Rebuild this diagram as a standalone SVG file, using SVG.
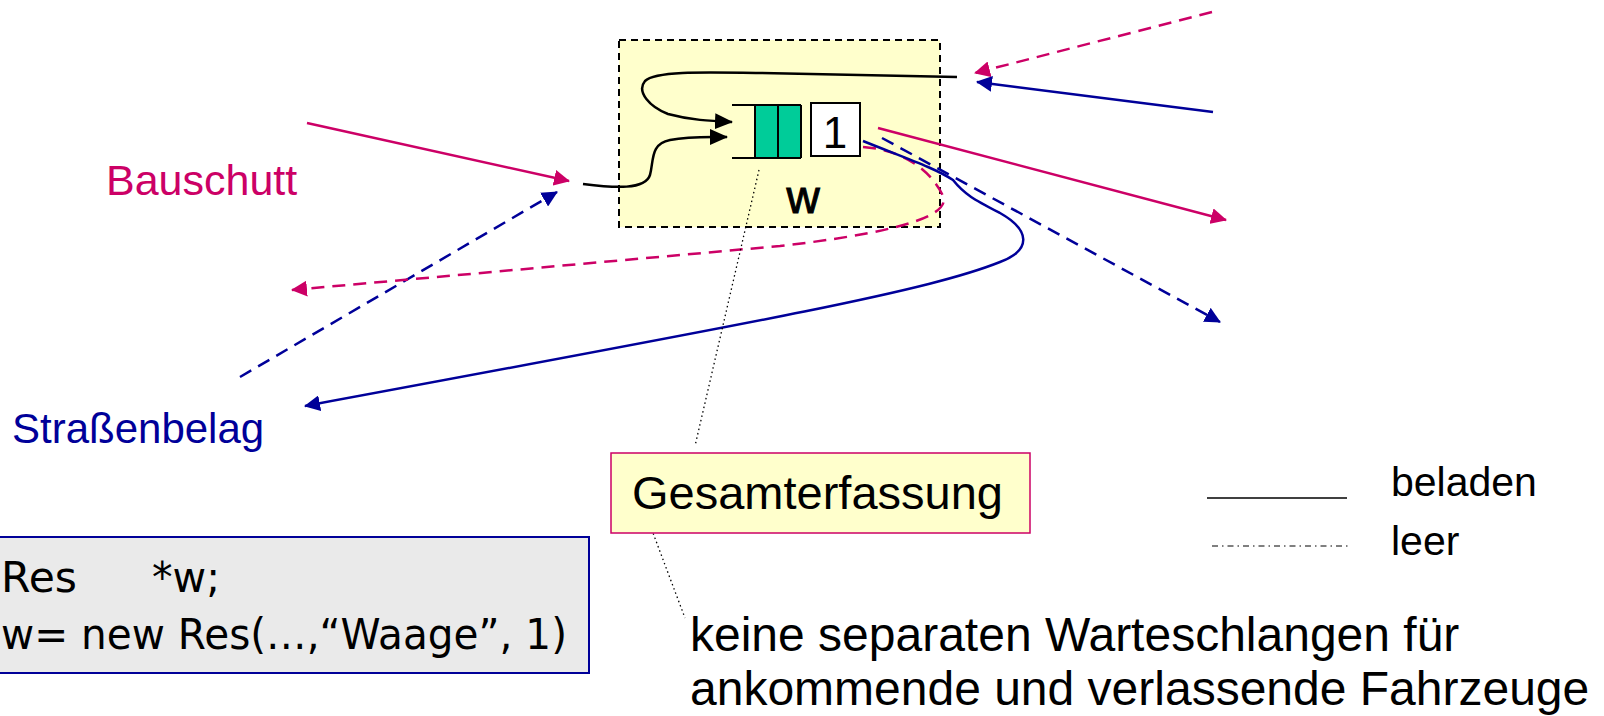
<svg xmlns="http://www.w3.org/2000/svg" width="1604" height="716" viewBox="0 0 1604 716">
<style>
  .t { font-family: "Liberation Sans", Arial, sans-serif; }
  .code { font-family: "DejaVu Sans", sans-serif; font-size: 43px; fill: #000; }
  .mag { stroke: #CC0066; stroke-width: 2.5; fill: none; }
  .blu { stroke: #000099; stroke-width: 2.5; fill: none; }
  .blk { stroke: #000; stroke-width: 2.5; fill: none; }
  .dash { stroke-dasharray: 13 8; }
  .dot { stroke: #000; stroke-width: 1.3; fill: none; stroke-dasharray: 1.5 3; }
</style>
<defs>
  <marker id="am" viewBox="0 0 16 16" refX="15" refY="8" markerWidth="16" markerHeight="16" markerUnits="userSpaceOnUse" orient="auto"><path d="M0,0 L16,8 L0,16 z" fill="#CC0066"/></marker>
  <marker id="ab" viewBox="0 0 16 16" refX="15" refY="8" markerWidth="16" markerHeight="16" markerUnits="userSpaceOnUse" orient="auto"><path d="M0,0 L16,8 L0,16 z" fill="#000099"/></marker>
  <marker id="ak" viewBox="0 0 18 16" refX="17" refY="8" markerWidth="18" markerHeight="16" markerUnits="userSpaceOnUse" orient="auto"><path d="M0,0 L18,8 L0,16 z" fill="#000"/></marker>
</defs>

<g id="waage">
  <rect x="619" y="40" width="321" height="187" fill="#FFFFCC" stroke="#000" stroke-width="2" stroke-dasharray="7 5"/>
  <rect x="755" y="105" width="46" height="53" fill="#00CC99"/>
  <line x1="732" y1="105" x2="801" y2="105" stroke="#000" stroke-width="2"/>
  <line x1="732" y1="158" x2="801" y2="158" stroke="#000" stroke-width="2"/>
  <line x1="755" y1="105" x2="755" y2="158" stroke="#000" stroke-width="2"/>
  <line x1="778" y1="105" x2="778" y2="158" stroke="#000" stroke-width="2"/>
  <line x1="801" y1="105" x2="801" y2="158" stroke="#000" stroke-width="2"/>
  <rect x="811" y="103" width="49" height="53" fill="#fff" stroke="#000" stroke-width="2"/>
  <text class="t" x="835" y="148" font-size="44" text-anchor="middle">1</text>
  <text class="t" x="803" y="213" font-size="46" text-anchor="middle" stroke="#000" stroke-width="1">w</text>
</g>

<g id="connectors">
  <line class="mag" x1="307" y1="123" x2="569" y2="181" marker-end="url(#am)"/>
  <line class="blu dash" x1="240" y1="377" x2="557" y2="192" marker-end="url(#ab)"/>
  <path class="blk" d="M583,184 C615,188 645,190 650,175 C654,160 650,144 670,140 C690,136 710,137 727,137" marker-end="url(#ak)"/>
  <path class="blk" d="M957,77 L760,73 C700,72 655,71 645,81 C636,92 650,107 668,114 C690,120 710,121 732,122" marker-end="url(#ak)"/>
  <line class="mag dash" x1="1212" y1="12" x2="975" y2="73" marker-end="url(#am)"/>
  <line class="blu" x1="1213" y1="112" x2="977" y2="82" marker-end="url(#ab)"/>
  <line class="mag" x1="878" y1="128" x2="1226" y2="220" marker-end="url(#am)"/>
  <line class="blu dash" x1="882" y1="138" x2="1220" y2="322" marker-end="url(#ab)"/>
  <path class="mag dash" d="M863,147 C905,150 932,172 943,196 C952,218 885,234 780,246 L292,290" marker-end="url(#am)"/>
  <path class="blu" d="M863,141 C905,158 935,168 953,180 C965,195 975,200 1000,213 C1030,230 1032,250 1000,262 C930,290 780,318 305,406" marker-end="url(#ab)"/>
  <line class="dot" x1="759" y1="170" x2="695" y2="446"/>
  <line class="dot" x1="650" y1="525" x2="685" y2="618"/>
</g>

<g id="labels">
  <text class="t" x="106" y="195" font-size="43" fill="#CC0066">Bauschutt</text>
  <text class="t" x="12" y="443" font-size="42" fill="#000099">Straßenbelag</text>
</g>

<g id="gesamterfassung">
  <rect x="611" y="453" width="419" height="80" fill="#FFFFCC" stroke="#CC0066" stroke-width="1.5"/>
  <text class="t" x="632" y="509" font-size="47">Gesamterfassung</text>
</g>

<g id="code">
  <rect x="-2" y="537" width="591" height="136" fill="#EAEAEA" stroke="#000099" stroke-width="2"/>
  <text class="code" y="592"><tspan x="1" textLength="76" lengthAdjust="spacingAndGlyphs">Res</tspan><tspan x="152" textLength="68" lengthAdjust="spacingAndGlyphs">*w;</tspan></text>
  <text class="code" x="1" y="649" textLength="566" lengthAdjust="spacingAndGlyphs">w= new Res(…,“Waage”, 1)</text>
</g>

<g id="legend">
  <line x1="1207" y1="498" x2="1347" y2="498" stroke="#000" stroke-width="1.5"/>
  <text class="t" x="1391" y="496" font-size="41">beladen</text>
  <line x1="1212" y1="546" x2="1351" y2="546" stroke="#000" stroke-width="1" stroke-dasharray="6 4 1.5 4"/>
  <text class="t" x="1391" y="555" font-size="41">leer</text>
</g>

<g id="note">
  <text class="t" x="690" y="651" font-size="48">keine separaten Warteschlangen für</text>
  <text class="t" x="690" y="705" font-size="48">ankommende und verlassende Fahrzeuge</text>
</g>
</svg>
